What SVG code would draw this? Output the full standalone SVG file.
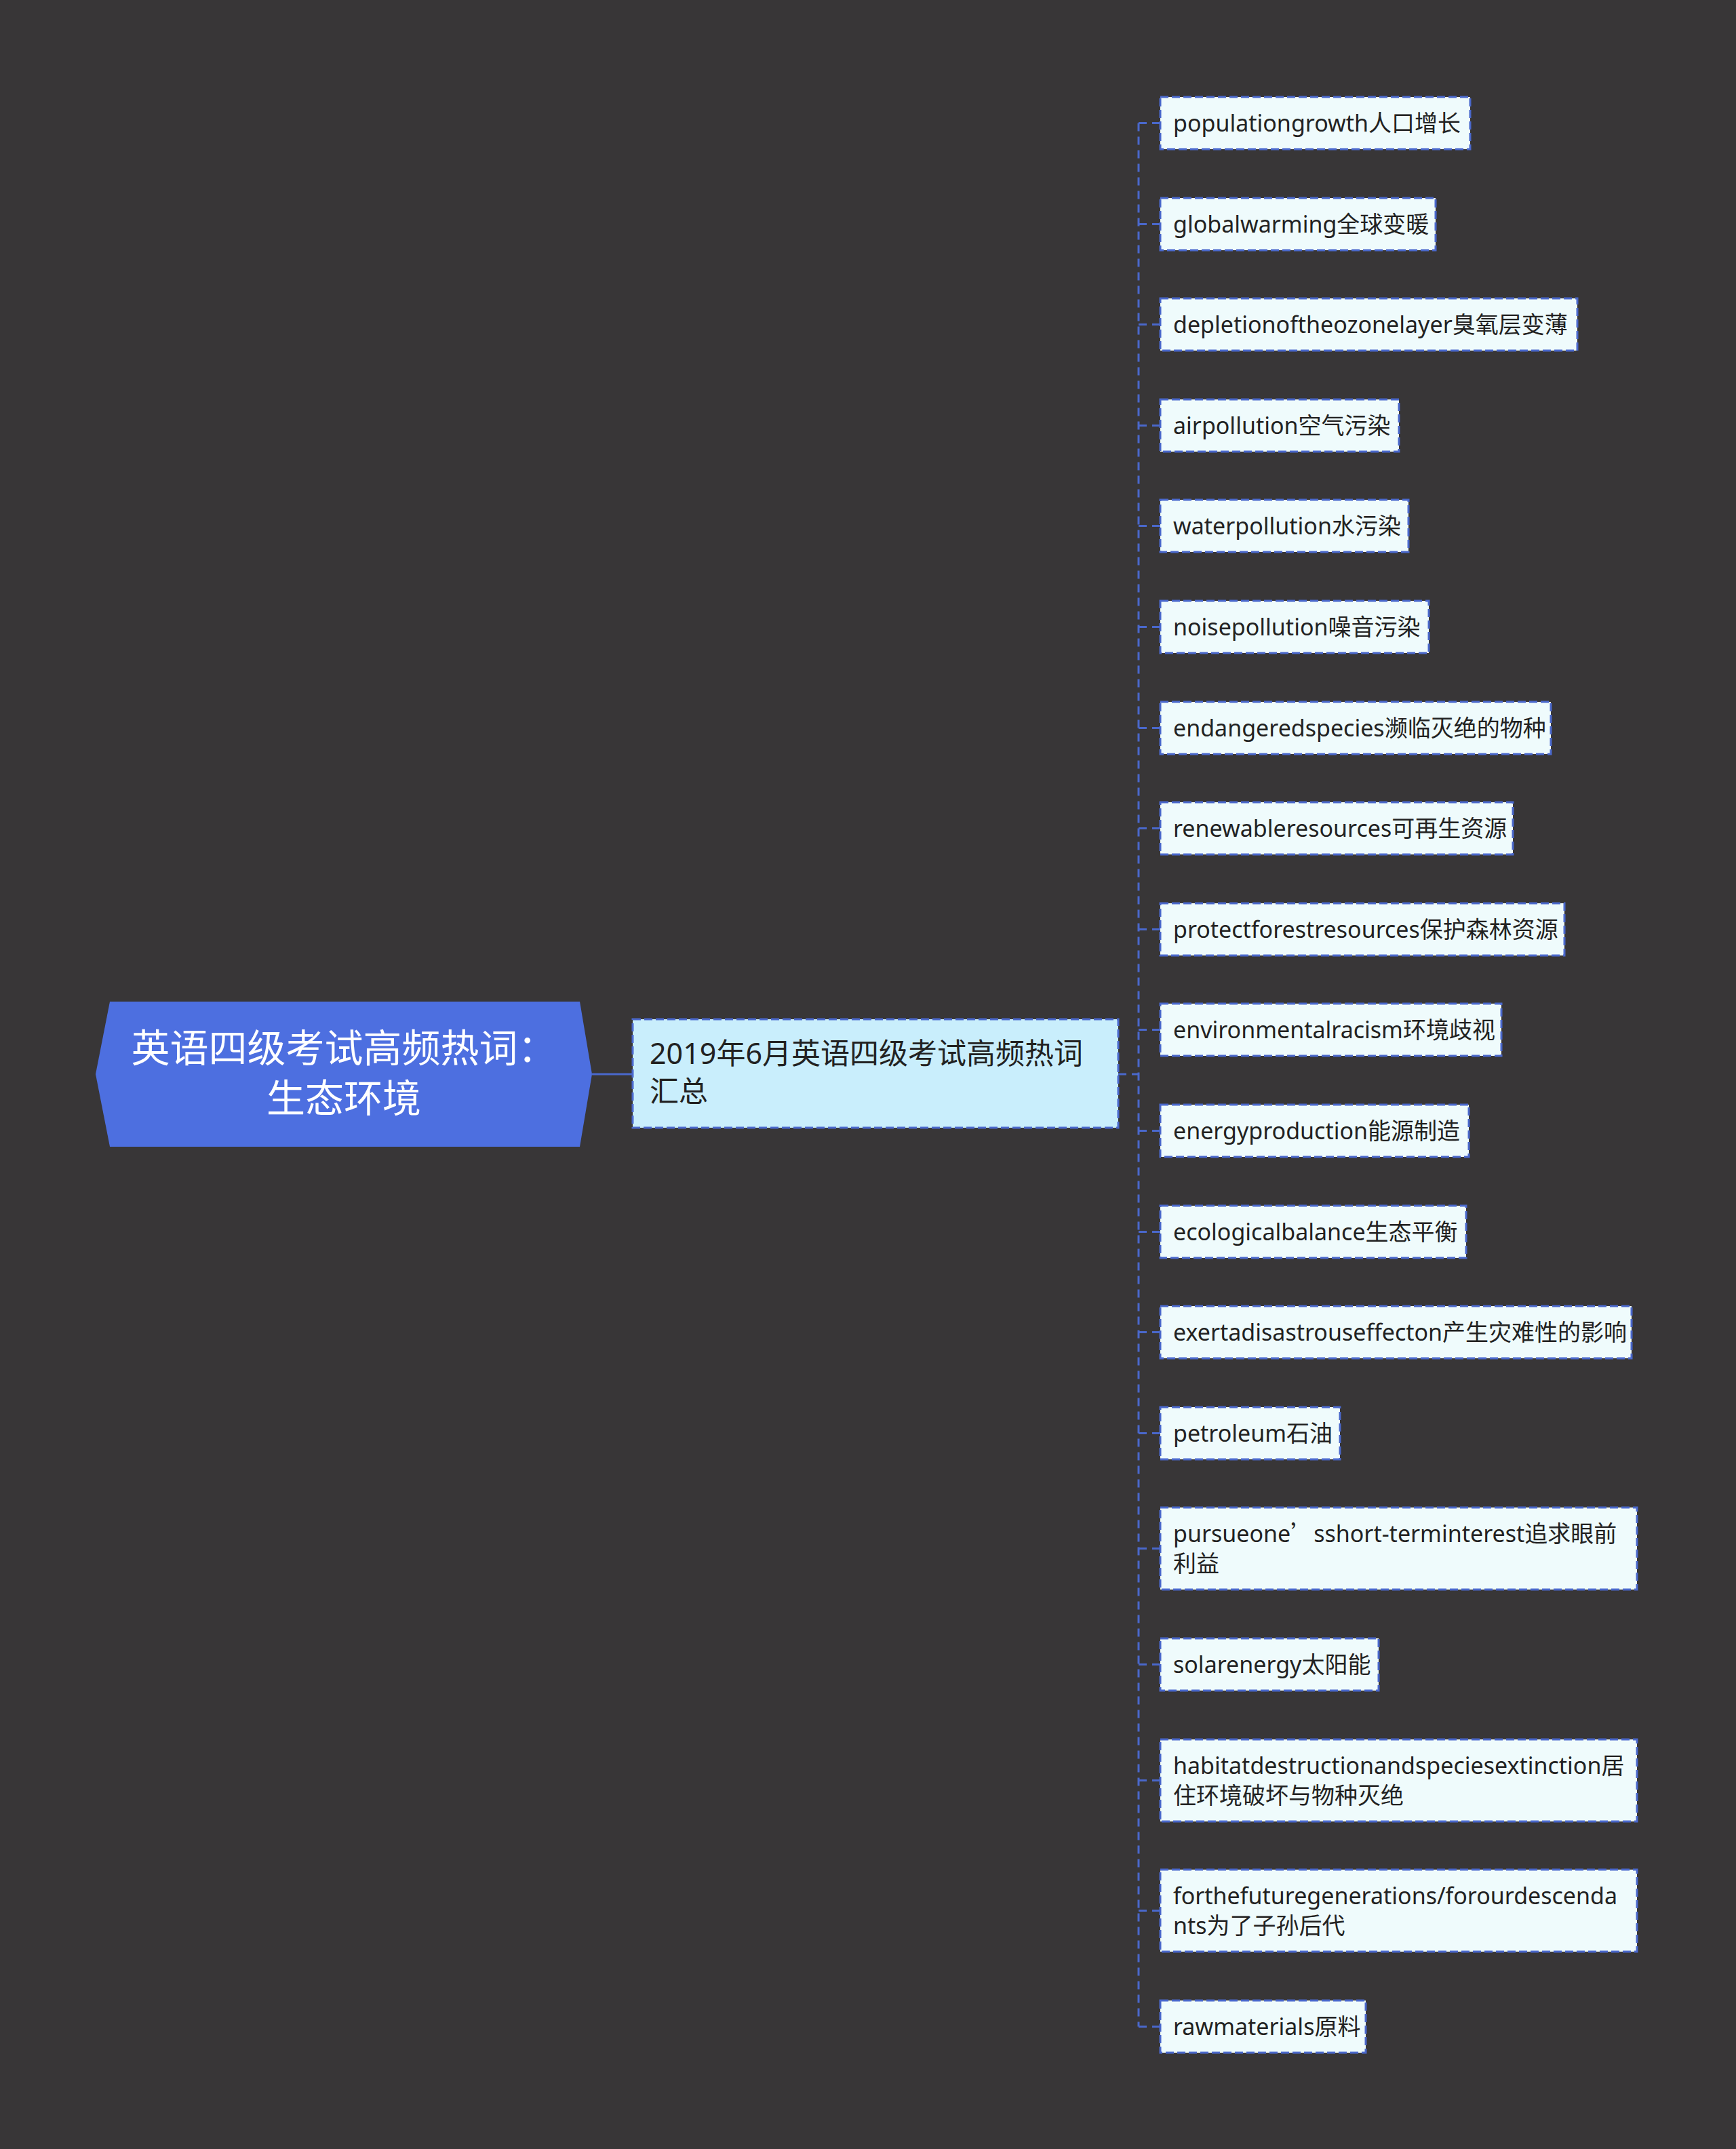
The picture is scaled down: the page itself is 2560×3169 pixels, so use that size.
<svg xmlns="http://www.w3.org/2000/svg" width="2560" height="3169" viewBox="0 0 2560 3169">
<style>
.leaf rect{fill:#effbfc;stroke:#4a68cc;stroke-width:3;stroke-dasharray:12 5}
.leaf text{font-family:"Noto Sans","Noto Sans CJK SC",sans-serif;font-size:34px;fill:#222}
.conn{fill:none;stroke:#4a68cc;stroke-width:3}
.dash{stroke-dasharray:12 8}
</style>
<rect width="2560" height="3169" fill="#383637"/>
<g id="connectors">
<path class="conn" d="M873 1584 H933"/>
<path class="conn dash" d="M1649 1584 H1679"/>
<path class="conn dash" d="M1679 181.5 V2988.5"/>
<path class="conn dash" d="M1679 181.5 H1711 M1679 330.5 H1711 M1679 478.5 H1711 M1679 627.5 H1711 M1679 775.5 H1711 M1679 924.5 H1711 M1679 1073.5 H1711 M1679 1221.5 H1711 M1679 1370.5 H1711 M1679 1518.5 H1711 M1679 1667.5 H1711 M1679 1816.5 H1711 M1679 1964.5 H1711 M1679 2113.5 H1711 M1679 2283.5 H1711 M1679 2454.5 H1711 M1679 2625.5 H1711 M1679 2817.5 H1711 M1679 2988.5 H1711"/>
</g>
<g id="root">
<polygon points="141,1584 162,1477 855,1477 873,1584 855,1691 162,1691" fill="#4d6fe0"/>
<text x="507" y="1566" text-anchor="middle" font-family="Noto Sans CJK SC, sans-serif" font-size="57" fill="#ffffff">英语四级考试高频热词：</text>
<text x="507" y="1640" text-anchor="middle" font-family="Noto Sans CJK SC, sans-serif" font-size="57" fill="#ffffff">生态环境</text>
</g>
<g id="summary">
<rect x="933" y="1503" width="716" height="160" fill="#c9eefc" stroke="#4a68cc" stroke-width="3" stroke-dasharray="12 5"/>
<text x="958" y="1569" font-family="Noto Sans, Noto Sans CJK SC, sans-serif" font-size="43" fill="#222">2019年6月英语四级考试高频热词</text>
<text x="958" y="1625" font-family="Noto Sans, Noto Sans CJK SC, sans-serif" font-size="43" fill="#222">汇总</text>
</g>
<g id="leaf1" class="leaf"><rect x="1711" y="143" width="457" height="77"/><text x="1730" y="193.5">populationgrowth人口增长</text></g>
<g id="leaf2" class="leaf"><rect x="1711" y="292" width="406" height="77"/><text x="1730" y="342.5">globalwarming全球变暖</text></g>
<g id="leaf3" class="leaf"><rect x="1711" y="440" width="615" height="77"/><text x="1730" y="490.5">depletionoftheozonelayer臭氧层变薄</text></g>
<g id="leaf4" class="leaf"><rect x="1711" y="589" width="352" height="77"/><text x="1730" y="639.5">airpollution空气污染</text></g>
<g id="leaf5" class="leaf"><rect x="1711" y="737" width="366" height="77"/><text x="1730" y="787.5">waterpollution水污染</text></g>
<g id="leaf6" class="leaf"><rect x="1711" y="886" width="396" height="77"/><text x="1730" y="936.5">noisepollution噪音污染</text></g>
<g id="leaf7" class="leaf"><rect x="1711" y="1035" width="576" height="77"/><text x="1730" y="1085.5">endangeredspecies濒临灭绝的物种</text></g>
<g id="leaf8" class="leaf"><rect x="1711" y="1183" width="520" height="77"/><text x="1730" y="1233.5">renewableresources可再生资源</text></g>
<g id="leaf9" class="leaf"><rect x="1711" y="1332" width="596" height="77"/><text x="1730" y="1382.5">protectforestresources保护森林资源</text></g>
<g id="leaf10" class="leaf"><rect x="1711" y="1480" width="503" height="77"/><text x="1730" y="1530.5">environmentalracism环境歧视</text></g>
<g id="leaf11" class="leaf"><rect x="1711" y="1629" width="455" height="77"/><text x="1730" y="1679.5">energyproduction能源制造</text></g>
<g id="leaf12" class="leaf"><rect x="1711" y="1778" width="451" height="77"/><text x="1730" y="1828.5">ecologicalbalance生态平衡</text></g>
<g id="leaf13" class="leaf"><rect x="1711" y="1926" width="695" height="77"/><text x="1730" y="1976.5">exertadisastrouseffecton产生灾难性的影响</text></g>
<g id="leaf14" class="leaf"><rect x="1711" y="2075" width="265" height="77"/><text x="1730" y="2125.5">petroleum石油</text></g>
<g id="leaf15" class="leaf"><rect x="1711" y="2223" width="703" height="121"/><text x="1730" y="2273.5">pursueone<tspan font-family="Noto Sans CJK SC, sans-serif">’</tspan>sshort-terminterest追求眼前</text><text x="1730" y="2317.5">利益</text></g>
<g id="leaf16" class="leaf"><rect x="1711" y="2416" width="322" height="77"/><text x="1730" y="2466.5">solarenergy太阳能</text></g>
<g id="leaf17" class="leaf"><rect x="1711" y="2565" width="703" height="121"/><text x="1730" y="2615.5">habitatdestructionandspeciesextinction居</text><text x="1730" y="2659.5">住环境破坏与物种灭绝</text></g>
<g id="leaf18" class="leaf"><rect x="1711" y="2757" width="703" height="121"/><text x="1730" y="2807.5">forthefuturegenerations/forourdescenda</text><text x="1730" y="2851.5">nts为了子孙后代</text></g>
<g id="leaf19" class="leaf"><rect x="1711" y="2950" width="303" height="77"/><text x="1730" y="3000.5">rawmaterials原料</text></g>
</svg>
